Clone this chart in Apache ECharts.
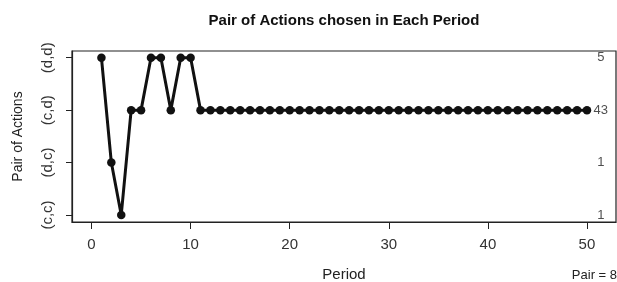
<!DOCTYPE html>
<html style="height: 100%">
<head>
    <meta charset="utf-8">
</head>
<body style="height: 100%; margin: 0; background: #fff">
<div id="container" style="width: 617px; height: 282px"></div>
<script type="text/javascript" src="https://cdn.jsdelivr.net/npm/echarts@6/dist/echarts.min.js"></script>
<script type="text/javascript">
// pair of actions per period (1=(c,c), 2=(d,c), 3=(c,d), 4=(d,d))
var pairLabels = ['(c,c)', '(d,c)', '(c,d)', '(d,d)'];
var periods = [];
for (var p = 1; p <= 50; p++) periods.push(p);
var actions = [4, 2, 1, 3, 3, 4, 4, 3, 4, 4,
               3, 3, 3, 3, 3, 3, 3, 3, 3, 3,
               3, 3, 3, 3, 3, 3, 3, 3, 3, 3,
               3, 3, 3, 3, 3, 3, 3, 3, 3, 3,
               3, 3, 3, 3, 3, 3, 3, 3, 3, 3];
// how often each pair was chosen, printed on the right
var pairCounts = [1, 1, 43, 5];
var xTicks = [0, 10, 20, 30, 40, 50];

var dom = document.getElementById("container");
var myChart = echarts.init(dom);

var lineData = [];
for (var i = 0; i < periods.length; i++) {
    lineData.push([periods[i], actions[i]]);
}
var countX = 51.4;
var countData = [];
for (var k = 0; k < pairCounts.length; k++) {
    countData.push([countX, k + 1, pairCounts[k]]);
}

var font = 'Liberation Sans, Arial, sans-serif';

option = {
    backgroundColor: '#fff',
    animation: false,
    title: [
        {
            text: 'Pair of Actions chosen in Each Period',
            left: 344, top: 13, textAlign: 'center', padding: 0,
            textStyle: { fontSize: 15, fontWeight: 'bold', color: '#111', fontFamily: font }
        },
        {
            text: 'Period',
            left: 344, top: 267, textAlign: 'center', padding: 0,
            textStyle: { fontSize: 15, fontWeight: 'normal', color: '#222', fontFamily: font }
        },
        {
            text: 'Pair = 8',
            right: 0, top: 269, padding: 0,
            textStyle: { fontSize: 13, fontWeight: 'normal', color: '#222', fontFamily: font }
        }
    ],
    grid: {
        left: 72, right: 1, top: 51, bottom: 60,
        show: true, borderColor: '#222', borderWidth: 1.2
    },
    xAxis: {
        type: 'value',
        min: -1.97, max: 52.93,
        splitLine: { show: false },
        axisLine: { show: true, onZero: false, lineStyle: { color: '#222', width: 1.2 } },
        axisTick: { show: true, length: 7, customValues: xTicks, lineStyle: { color: '#222' } },
        axisLabel: { customValues: xTicks, margin: 15, fontSize: 15, color: '#333', fontFamily: font }
    },
    yAxis: {
        type: 'value',
        min: 0.866, max: 4.128,
        name: 'Pair of Actions',
        nameLocation: 'middle',
        nameGap: 47,
        nameTextStyle: { fontSize: 14, color: '#222', fontFamily: font },
        splitLine: { show: false },
        axisLine: { show: true, onZero: false, lineStyle: { color: '#222', width: 1.2 } },
        axisTick: { show: true, length: 6, customValues: [1, 2, 3, 4], lineStyle: { color: '#222' } },
        axisLabel: {
            customValues: [1, 2, 3, 4],
            rotate: 90, margin: 17, fontSize: 15, color: '#333', fontFamily: font,
            formatter: function (v) { return pairLabels[Math.round(v) - 1]; }
        }
    },
    series: [
        {
            type: 'line',
            data: lineData,
            symbol: 'circle',
            symbolSize: 8.5,
            lineStyle: { color: '#111', width: 3 },
            itemStyle: { color: '#111' }
        },
        {
            type: 'scatter',
            data: countData,
            symbolSize: 0,
            label: {
                show: true, position: 'inside',
                fontSize: 13, color: '#222', fontFamily: font,
                formatter: function (p) { return p.value[2]; }
            }
        }
    ]
};

myChart.setOption(option);
</script>
</body>
</html>
